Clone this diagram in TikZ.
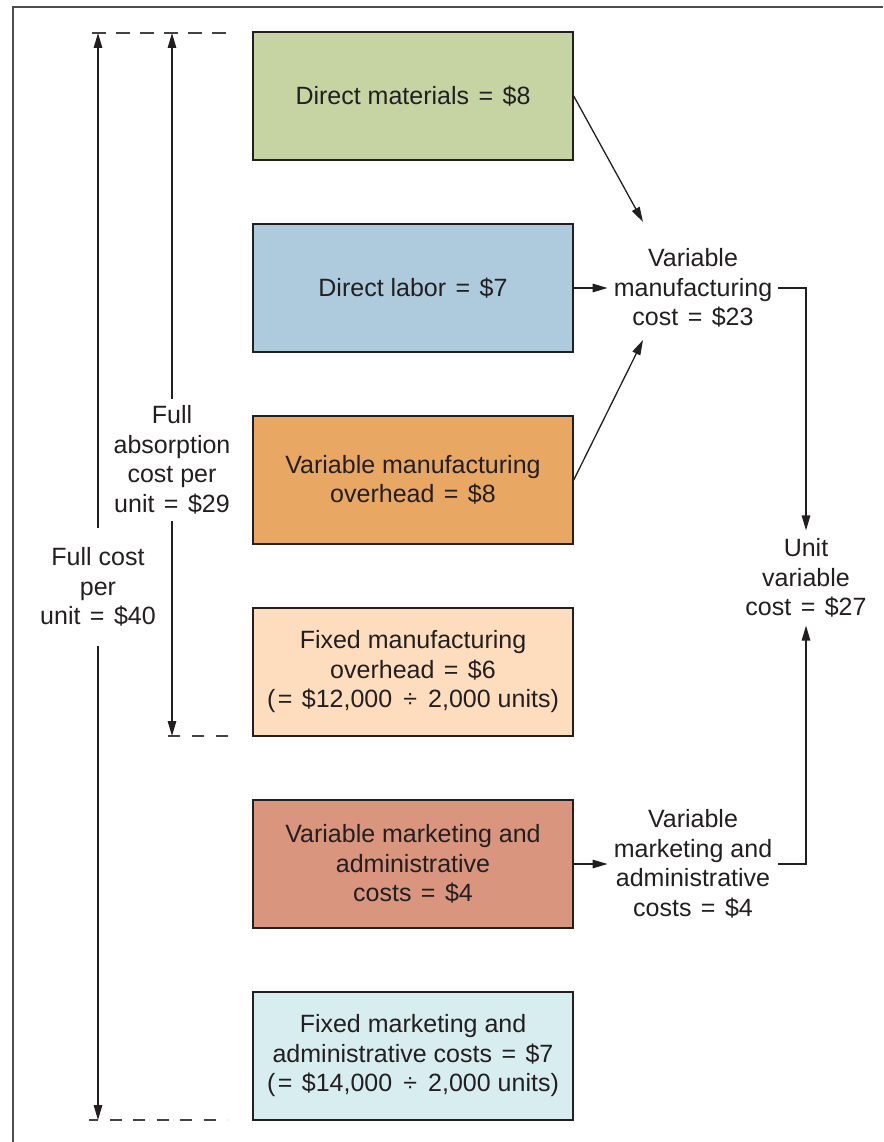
\documentclass[tikz,border=0pt]{standalone}
\usepackage{fontspec}
\setmainfont{Liberation Sans}
\usetikzlibrary{arrows.meta}
\definecolor{ink}{HTML}{231F20}
\definecolor{cGreen}{HTML}{C5D4A2}
\definecolor{cBlue}{HTML}{ADCBDD}
\definecolor{cOrange}{HTML}{E9A764}
\definecolor{cPeach}{HTML}{FDDDBD}
\definecolor{cSalmon}{HTML}{D9957E}
\definecolor{cCyan}{HTML}{D7EDEF}
% equals sign with a little extra room around it
\newcommand{\eqs}{\kern2.5pt=\kern2.5pt}
\tikzset{
  costbox/.style={draw=ink, line width=1.4pt, minimum width=320pt, minimum height=128pt,
    align=center, text=ink, font=\fontsize{25}{29.5}\selectfont, inner sep=0pt},
  lbl/.style={align=center, text=ink, font=\fontsize{25}{29.5}\selectfont, inner xsep=6pt},
  arr/.style={draw=ink, line width=1.3pt, -{Triangle[length=15pt,width=8.5pt]}},
  conn/.style={draw=ink, line width=1.3pt},
  guide/.style={draw=ink!85, line width=1.3pt, dash pattern=on 14pt off 10pt},
}
\begin{document}
\begin{tikzpicture}[x=1pt, y=-1pt]
  \useasboundingbox (0,0) rectangle (883,1142);
  % frame
  \draw[draw=ink!80, line width=1.5pt] (13,1142) -- (13,7) -- (883,7);

  % cost components
  \node[costbox, fill=cGreen]  (b1) at (413,96)   {Direct materials \eqs{} \$8};
  \node[costbox, fill=cBlue]   (b2) at (413,288)  {Direct labor \eqs{} \$7};
  \node[costbox, fill=cOrange] (b3) at (413,480)  {Variable manufacturing\\overhead \eqs{} \$8};
  \node[costbox, fill=cPeach]  (b4) at (413,672)  {Fixed manufacturing\\overhead \eqs{} \$6\\(\eqs{} \$12,000 \,÷\, 2,000 units)};
  \node[costbox, fill=cSalmon] (b5) at (413,864)  {Variable marketing and\\administrative\\costs \eqs{} \$4};
  \node[costbox, fill=cCyan]   (b6) at (413,1056) {Fixed marketing and\\administrative costs \eqs{} \$7\\(\eqs{} \$14,000 \,÷\, 2,000 units)};

  % subtotals on the right
  \node[lbl] (vm)  at (693,288) {Variable\\manufacturing\\cost \eqs{} \$23};
  \node[lbl] (vma) at (693,864) {Variable\\marketing and\\administrative\\costs \eqs{} \$4};
  \node[lbl, inner ysep=8pt] (uv) at (806,578) {Unit\\variable\\cost \eqs{} \$27};

  \draw[arr] (b1.east) -- ([shift={(-50pt,66pt)}]vm.center);
  \draw[arr] (b2.east) -- (vm.west);
  \draw[arr] (b3.east) -- ([shift={(-50pt,-52pt)}]vm.center);
  \draw[arr] (vm.east) -| (uv.north);
  \draw[arr] (vma.east) -| (uv.south);
  \draw[arr] (b5.east) -- (vma.west);

  % guide lines marking the extent of each total
  \coordinate (topL) at (92,33);
  \coordinate (topR) at (230,33);
  \coordinate (midL) at (168,736);
  \coordinate (midR) at (234,736);
  \coordinate (botL) at (89,1120);
  \coordinate (botR) at (227,1120);
  \draw[guide] (topL) -- (topR);
  \draw[guide, dash pattern=on 12pt off 12pt] (midL) -- (midR);
  \draw[guide, dash pattern=on 12pt off 11.5pt, dash phase=3pt] (botL) -- (botR);

  % totals on the left
  \node[lbl, inner ysep=7pt] (fa) at (172,460) {Full\\absorption\\cost per\\unit \eqs{} \$29};
  \node[lbl, inner ysep=19pt] (fc) at (98,587) {Full cost\\per\\unit \eqs{} \$40};

  \draw[arr] (fa.north) -- (fa.north |- topL);
  \draw[arr] (fa.south) -- (fa.south |- midL);
  \draw[arr] (fc.north) -- (fc.north |- topL);
  \draw[arr] (fc.south) -- (fc.south |- botL);
\end{tikzpicture}
\end{document}
